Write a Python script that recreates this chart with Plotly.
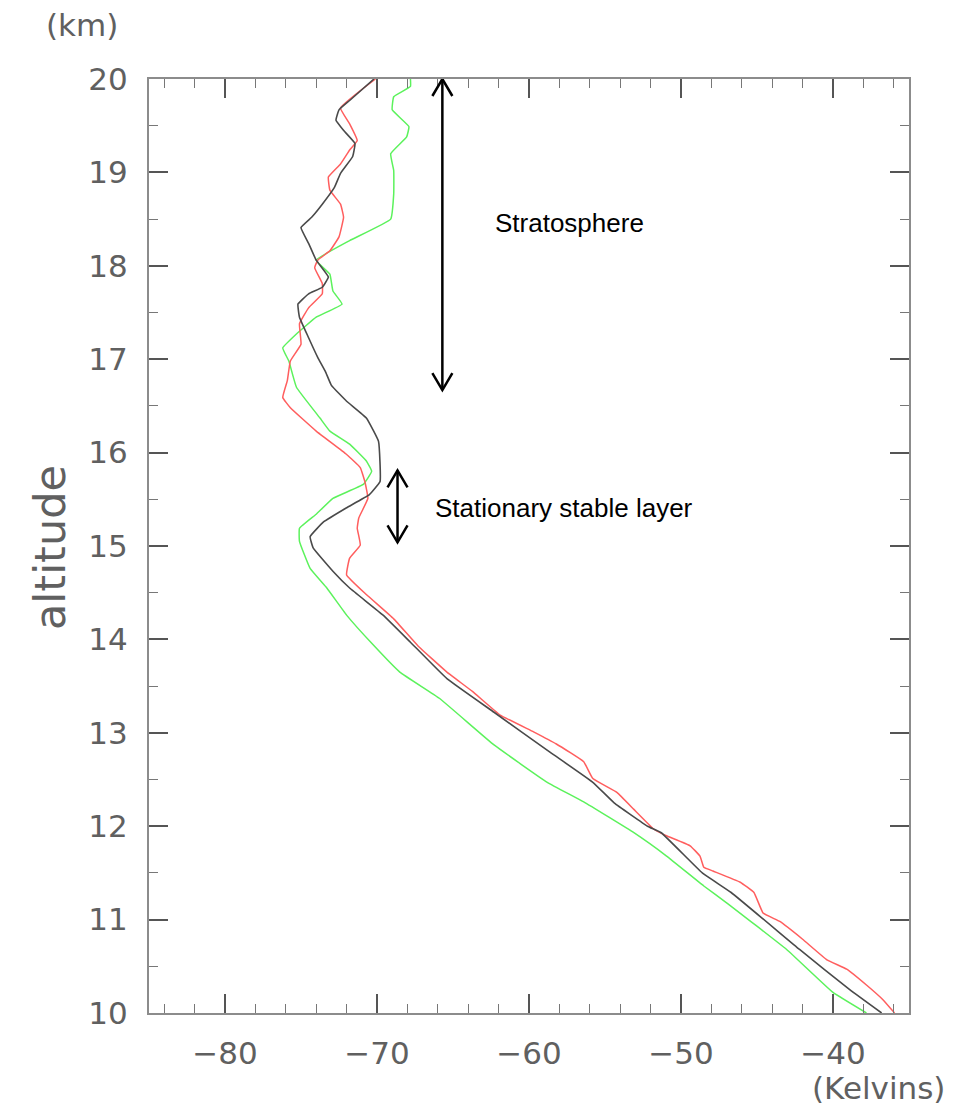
import plotly.graph_objects as go

# ---------------- data ----------------
red_alt = [20.00, 19.69, 19.52, 19.34, 19.24, 19.09, 18.95, 18.81, 18.66, 18.52, 18.31, 18.16, 18.06,
           17.98, 17.81, 17.70, 17.55, 17.38, 17.16, 16.98, 16.77, 16.59, 16.48, 16.23, 15.98, 15.84,
           15.69, 15.51, 15.30, 15.19, 15.01, 14.87, 14.69, 14.48, 14.22, 13.93, 13.65, 13.44, 13.19,
           13.01, 12.88, 12.69, 12.51, 12.36, 12.18, 11.97, 11.90, 11.79, 11.68, 11.56, 11.52, 11.40,
           11.29, 11.07, 10.98, 10.79, 10.57, 10.47, 10.30, 10.14, 10.00]
red_temp = [-70.1, -72.4, -71.8, -71.3, -71.8, -72.4, -73.2, -73.1, -72.4, -72.2, -72.5, -73.1, -73.9,
            -74.1, -73.6, -73.6, -74.5, -75.1, -75.0, -75.7, -75.9, -76.2, -75.7, -74.0, -72.0, -71.1,
            -70.8, -70.6, -71.2, -71.3, -71.1, -71.8, -72.0, -70.7, -68.9, -67.3, -65.4, -63.7, -61.9,
            -59.7, -58.2, -56.4, -55.8, -54.2, -53.1, -51.8, -51.0, -49.4, -48.75, -48.5, -47.9, -46.1,
            -45.2, -44.6, -43.5, -42.0, -40.4, -39.1, -37.8, -36.7, -35.95]

black_alt = [20.00, 19.77, 19.67, 19.56, 19.45, 19.31, 19.17, 18.99, 18.84, 18.66, 18.52, 18.41, 18.24,
             18.06, 17.88, 17.77, 17.70, 17.59, 17.45, 17.23, 17.02, 16.87, 16.72, 16.55, 16.37, 16.12,
             15.69, 15.55, 15.41, 15.26, 15.10, 14.98, 14.73, 14.55, 14.26, 13.97, 13.58, 13.22, 12.79,
             12.47, 12.25, 12.00, 11.93, 11.50, 11.29, 10.68, 10.25, 10.00]
black_temp = [-70.2, -71.8, -72.5, -72.7, -72.2, -71.45, -71.6, -72.4, -72.8, -73.6, -74.3, -75.0, -74.5,
              -74.0, -73.2, -73.6, -74.5, -75.2, -75.1, -74.5, -73.9, -73.4, -73.0, -72.0, -70.7, -69.9,
              -69.8, -70.5, -72.0, -73.5, -74.4, -74.2, -72.9, -71.8, -69.6, -67.8, -65.4, -62.3, -58.6,
              -55.8, -54.4, -52.2, -51.3, -48.6, -46.7, -42.2, -38.9, -36.8]

green_alt = [20.00, 19.92, 19.81, 19.67, 19.49, 19.38, 19.20, 19.02, 18.77, 18.50, 18.27, 18.06, 17.91,
             17.73, 17.59, 17.45, 17.27, 17.12, 16.98, 16.70, 16.37, 16.23, 16.09, 15.91, 15.80, 15.66,
             15.51, 15.34, 15.19, 15.05, 14.76, 14.55, 14.26, 13.95, 13.65, 13.37, 12.87, 12.47, 12.26,
             11.93, 11.68, 11.36, 11.18, 10.68, 10.22, 10.00]
green_temp = [-67.8, -67.8, -68.9, -69.0, -67.9, -68.05, -69.1, -68.9, -68.9, -69.1, -71.8, -74.0, -73.1,
              -72.9, -72.3, -74.0, -75.3, -76.2, -75.8, -75.3, -73.75, -73.1, -71.8, -70.7, -70.35, -70.9,
              -72.9, -74.0, -75.1, -75.1, -74.4, -73.3, -72.0, -70.3, -68.5, -65.9, -62.3, -58.8, -56.4,
              -53.1, -50.95, -48.5, -47.0, -43.05, -40.0, -37.8]

x_ticks = [-80, -70, -60, -50, -40]
y_ticks = [10, 11, 12, 13, 14, 15, 16, 17, 18, 19, 20]

# annotation arrows: (x, y_top, y_bottom)
strat_arrow = (-65.7, 20.0, 16.67)
stable_arrow = (-68.65, 15.81, 15.04)

# ---------------- layout constants ----------------
OFF = 8  # page body margin
W, H = 950, 1104
ML, MR, MT, MB = 141, 49, 71, 99
XR = [-85, -35]
YR = [10, 20]
PW = W - ML - MR
PH = H - MT - MB
px_per_x = PW / (XR[1] - XR[0])
px_per_y = PH / (YR[1] - YR[0])


def paper_x(px):
    return (px - OFF - ML) / PW


def paper_y(py):
    return (H - MB - (py - OFF)) / PH


fig = go.Figure()
fig.add_trace(go.Scatter(x=green_temp, y=green_alt, mode="lines",
                         line=dict(color="#5cf25c", width=1.5, shape="spline", smoothing=0.3),
                         showlegend=False))
fig.add_trace(go.Scatter(x=red_temp, y=red_alt, mode="lines",
                         line=dict(color="#ff5e5e", width=1.5, shape="spline", smoothing=0.3),
                         showlegend=False))
fig.add_trace(go.Scatter(x=black_temp, y=black_alt, mode="lines",
                         line=dict(color="#4a4a4a", width=1.6, shape="spline", smoothing=0.3),
                         showlegend=False))


# double-headed arrows with open V heads
def double_arrow(x, y0, y1, head_w_px=10, head_l_px=17):
    dx = head_w_px / px_per_x
    dy = head_l_px / px_per_y
    style = dict(color="black", width=2.5)
    fig.add_shape(type="line", x0=x, x1=x, y0=y0, y1=y1, line=style)
    fig.add_shape(type="path", path=f"M {x-dx},{y0-dy} L {x},{y0} L {x+dx},{y0-dy}", line=style)
    fig.add_shape(type="path", path=f"M {x-dx},{y1+dy} L {x},{y1} L {x+dx},{y1+dy}", line=style)


double_arrow(*strat_arrow)
double_arrow(*stable_arrow)

txt_font = dict(family="Liberation Sans, Arial", size=26, color="black")
fig.add_annotation(x=-62.37, y=18.46, text="Stratosphere", showarrow=False,
                   xanchor="left", yanchor="middle", font=txt_font)
fig.add_annotation(x=-66.32, y=15.41, text="Stationary stable layer", showarrow=False,
                   xanchor="left", yanchor="middle", font=txt_font)

gray_font = dict(family="DejaVu Sans", size=31, color="#606060")
fig.add_annotation(xref="paper", yref="paper", x=paper_x(82), y=paper_y(25),
                   text="(km)", showarrow=False, xanchor="center", yanchor="middle", font=gray_font)
fig.add_annotation(xref="paper", yref="paper", x=paper_x(878), y=paper_y(1088),
                   text="(Kelvins)", showarrow=False, xanchor="center", yanchor="middle", font=gray_font)
fig.add_annotation(xref="paper", yref="paper", x=paper_x(50), y=paper_y(548),
                   text="altitude", showarrow=False, textangle=-90, xanchor="center", yanchor="middle",
                   font=dict(family="DejaVu Sans", size=43, color="#606060"))

axis_common = dict(showgrid=False, zeroline=False, showline=True, linecolor="#8c8c8c", linewidth=2,
                   mirror="allticks", ticks="inside", ticklen=19, tickwidth=1.5, tickcolor="#555555",
                   tickfont=dict(family="DejaVu Sans", size=31, color="#606060"))

fig.update_xaxes(range=XR, tickvals=x_ticks, ticklabelstandoff=12,
                 minor=dict(dtick=2, ticks="inside", ticklen=9, tickwidth=1.2, tickcolor="#777777"),
                 **axis_common)
fig.update_yaxes(range=YR, tickvals=y_ticks, ticklabelstandoff=13,
                 minor=dict(dtick=0.5, ticks="inside", ticklen=9, tickwidth=1.2, tickcolor="#777777"),
                 **axis_common)

fig.update_layout(width=W, height=H, autosize=False,
                  margin=dict(l=ML, r=MR, t=MT, b=MB),
                  plot_bgcolor="white", paper_bgcolor="white")

fig.write_html("out.html")
